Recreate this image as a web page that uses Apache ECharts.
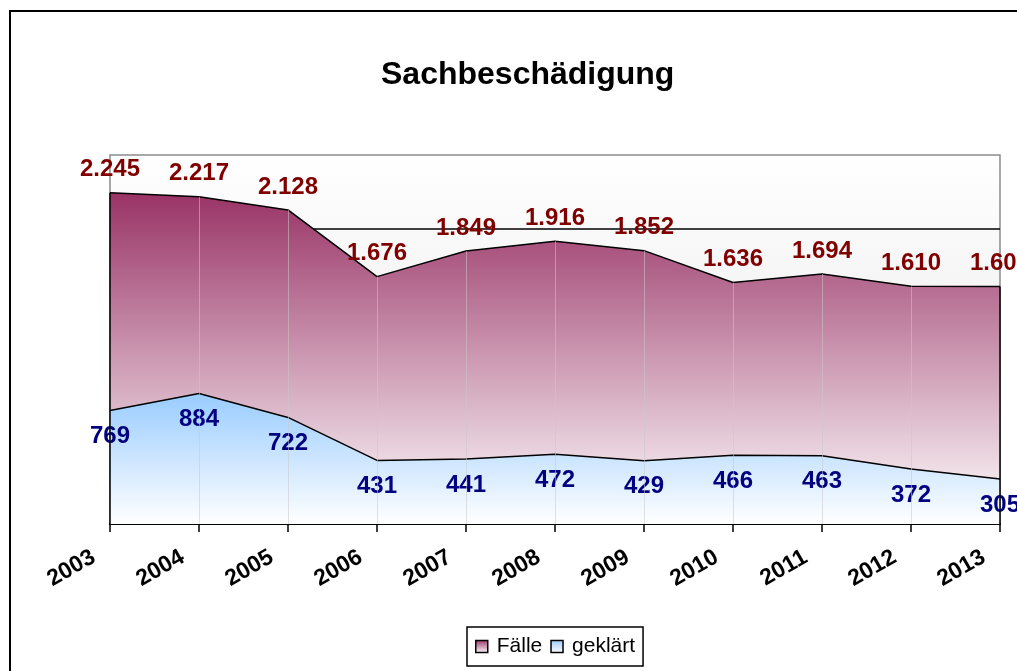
<!DOCTYPE html>
<html>
<head>
<meta charset="utf-8">
<title>Sachbeschädigung</title>
<script src="https://cdn.jsdelivr.net/npm/echarts@6/dist/echarts.min.js"></script>
<style>
    html, body { margin: 0; padding: 0; background: #fff; }
    #chart { width: 1017px; height: 671px; }
</style>
</head>
<body>
<div id="chart"></div>
<script>
const years = ["2003", "2004", "2005", "2006", "2007", "2008", "2009", "2010", "2011", "2012", "2013"];
const faelle = [2245, 2217, 2128, 1676, 1849, 1916, 1852, 1636, 1694, 1610, 1609];
const geklaert = [769, 884, 722, 431, 441, 472, 429, 466, 463, 372, 305];

const font = "Liberation Sans, Arial, sans-serif";

// German thousands separator: 2245 -> 2.245
const fmt = (v) => String(v).replace(/\B(?=(\d{3})+(?!\d))/g, ".");

const grad = (top, bottom) => new echarts.graphic.LinearGradient(0, 0, 0, 1, [
    { offset: 0, color: top },
    { offset: 1, color: bottom },
]);

// light drop lines inside the areas, black edges at both ends
const dropLines = years.map((y, i) => {
    const edge = i === 0 || i === years.length - 1;
    return [
        { coord: [y, 0], lineStyle: edge ? { color: "#000", width: 1.5, opacity: 1 } : undefined },
        { coord: [y, faelle[i]] },
    ];
});

const chart = echarts.init(document.getElementById("chart"));

chart.setOption({
    animation: false,
    textStyle: { fontFamily: font },
    title: {
        text: "Sachbeschädigung",
        left: 376,
        top: 54,
        textStyle: { fontFamily: font, fontSize: 32, fontWeight: "bold", color: "#000" },
    },
    graphic: [{
        type: "rect",
        shape: { x: 10, y: 11, width: 1100, height: 700 },
        style: { fill: "none", stroke: "#000", lineWidth: 2 },
        silent: true,
    }],
    legend: {
        left: 467,
        top: 627,
        padding: [9, 8, 9, 8],
        itemGap: 8,
        itemWidth: 12,
        itemHeight: 12,
        borderColor: "#000",
        borderWidth: 1.5,
        textStyle: { fontFamily: font, fontSize: 21, color: "#000", padding: [0, 0, 0, 4] },
        data: [
            { name: "Fälle", icon: "rect", itemStyle: { color: grad("#993366", "#ffffff"), borderColor: "#000", borderWidth: 1.5 } },
            { name: "geklärt", icon: "rect", itemStyle: { color: grad("#99ccff", "#ffffff"), borderColor: "#000", borderWidth: 1.5 } },
        ],
    },
    grid: {
        left: 110,
        right: 17,
        top: 155,
        bottom: 147,
        show: true,
        backgroundColor: grad("#ffffff", "#e4e4e4"),
        borderColor: "#8c8c8c",
        borderWidth: 1.5,
    },
    xAxis: {
        type: "category",
        data: years,
        boundaryGap: false,
        axisLine: { lineStyle: { color: "#000", width: 2 } },
        axisTick: { length: 8, lineStyle: { color: "#000", width: 1.5 } },
        axisLabel: {
            rotate: 30,
            margin: 22,
            padding: [0, 19, 0, 0],
            fontFamily: font,
            fontSize: 23,
            fontWeight: "bold",
            color: "#000",
        },
        splitLine: { show: false },
    },
    yAxis: {
        type: "value",
        min: 0,
        max: 2500,
        interval: 500,
        axisLine: { show: false },
        axisTick: { show: false },
        axisLabel: { show: false },
        splitLine: { show: true, showMaxLine: false, lineStyle: { color: "#000", width: 1.5 } },
    },
    series: [
        {
            name: "Fälle",
            type: "line",
            data: faelle,
            symbolSize: 0,
            lineStyle: { color: "#000", width: 1.5 },
            itemStyle: { color: "#993366" },
            areaStyle: { color: grad("#993366", "#ffffff"), opacity: 1 },
            label: {
                show: true,
                position: "top",
                distance: 11,
                formatter: (p) => fmt(p.value),
                fontFamily: font,
                fontSize: 24,
                fontWeight: "bold",
                color: "#800000",
            },
        },
        {
            name: "geklärt",
            type: "line",
            data: geklaert,
            symbolSize: 0,
            lineStyle: { color: "#000", width: 1.5 },
            itemStyle: { color: "#99ccff" },
            areaStyle: { color: grad("#99ccff", "#ffffff"), opacity: 1 },
            label: {
                show: true,
                position: "bottom",
                distance: 14,
                formatter: (p) => fmt(p.value),
                fontFamily: font,
                fontSize: 24,
                fontWeight: "bold",
                color: "#000080",
            },
            markLine: {
                silent: true,
                symbol: "none",
                label: { show: false },
                lineStyle: { type: "solid", color: "rgba(200,200,200,0.55)", width: 1 },
                data: dropLines,
            },
        },
    ],
});
</script>
</body>
</html>
